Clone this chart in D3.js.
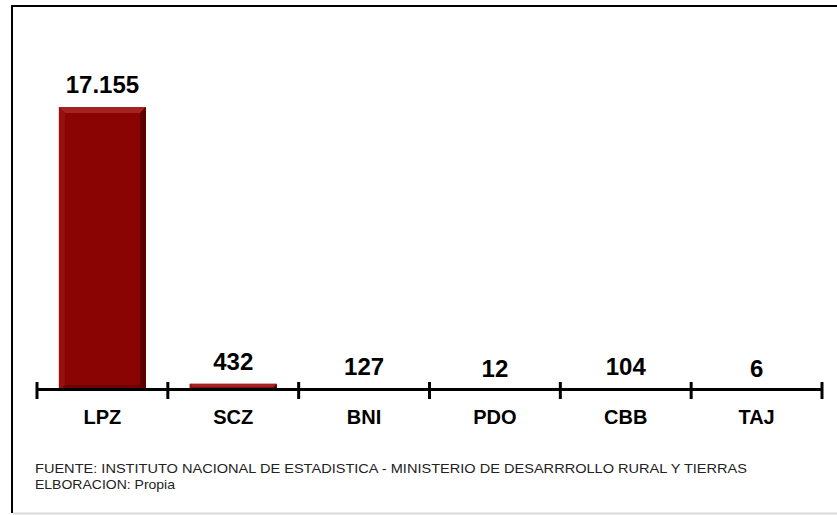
<!DOCTYPE html>
<html>
<head>
<meta charset="utf-8">
<script src="https://cdn.jsdelivr.net/npm/d3@7.9.0/dist/d3.min.js"></script>
<style>
  html, body { margin: 0; padding: 0; background: #fff; }
  svg { display: block; font-family: Arial, "Liberation Sans", sans-serif; }
</style>
</head>
<body>
<svg id="chart" width="837" height="515"></svg>
<script>
const categories = ['LPZ', 'SCZ', 'BNI', 'PDO', 'CBB', 'TAJ'];
const values = [17155, 432, 127, 12, 104, 6];
const valueLabels = ['17.155', '432', '127', '12', '104', '6'];
const footerLines = [
  'FUENTE: INSTITUTO NACIONAL DE ESTADISTICA - MINISTERIO DE DESARRROLLO RURAL Y TIERRAS',
  'ELBORACION: Propia'
];

const svg = d3.select('#chart');

// frame (left + top black, light grey bottom)
svg.append('line').attr('x1', 12).attr('x2', 12).attr('y1', 5).attr('y2', 513)
  .attr('stroke', '#000').attr('stroke-width', 2);
svg.append('line').attr('x1', 11).attr('x2', 837).attr('y1', 6).attr('y2', 6)
  .attr('stroke', '#000').attr('stroke-width', 2);
svg.append('line').attr('x1', 13).attr('x2', 837).attr('y1', 513.5).attr('y2', 513.5)
  .attr('stroke', '#d9d9d9').attr('stroke-width', 2);

const axisY = 389.5;
const base = 391;
const x = d3.scaleBand().domain(categories).range([37, 822]).padding(0);
const y = d3.scaleLinear().domain([0, d3.max(values)]).range([base, 107]);

const barFrac = 0.665;
const bw = x.bandwidth() * barFrac;
const off = (x.bandwidth() - bw) / 2;

const data = categories.map((c, i) => ({ cat: c, value: values[i], label: valueLabels[i] }));

// bars with a small bevel
const bars = svg.append('g').selectAll('g').data(data).join('g')
  .attr('transform', d => `translate(${x(d.cat) + off},${y(d.value)})`);

bars.append('rect')
  .attr('width', bw)
  .attr('height', d => base - y(d.value))
  .attr('fill', '#8a0404');

bars.each(function (d) {
  const h = base - y(d.value);
  const b = Math.min(6, h / 2);
  if (h < 3) return;
  const g = d3.select(this);
  // top bevel
  g.append('path').attr('d', `M0,0 L${bw},0 L${bw - b},${b} L${b},${b} Z`).attr('fill', '#a52222');
  // left bevel
  g.append('path').attr('d', `M0,0 L${b},${b} L${b},${h - b} L0,${h} Z`).attr('fill', '#961010');
  // right bevel
  g.append('path').attr('d', `M${bw},0 L${bw},${h} L${bw - b},${h - b} L${bw - b},${b} Z`).attr('fill', '#5e0000');
  // bottom bevel
  g.append('path').attr('d', `M0,${h} L${b},${h - b} L${bw - b},${h - b} L${bw},${h} Z`).attr('fill', '#6e0202');
});

// axis line and ticks
svg.append('line').attr('x1', 37).attr('x2', 822).attr('y1', axisY).attr('y2', axisY)
  .attr('stroke', '#000').attr('stroke-width', 3);
const tickPos = categories.map(c => x(c)).concat([x.range()[1]]);
svg.append('g').selectAll('line').data(tickPos).join('line')
  .attr('x1', d => d).attr('x2', d => d)
  .attr('y1', 382).attr('y2', 399)
  .attr('stroke', '#000').attr('stroke-width', 3);

// value labels
svg.append('g').selectAll('text').data(data).join('text')
  .attr('x', d => x(d.cat) + x.bandwidth() / 2)
  .attr('y', d => y(d.value) - 14)
  .attr('text-anchor', 'middle')
  .attr('font-size', 24)
  .attr('font-weight', 'bold')
  .attr('fill', '#000')
  .text(d => d.label);

// category labels
svg.append('g').selectAll('text').data(categories).join('text')
  .attr('x', d => x(d) + x.bandwidth() / 2)
  .attr('y', 424)
  .attr('text-anchor', 'middle')
  .attr('font-size', 20)
  .attr('font-weight', 'bold')
  .attr('fill', '#000')
  .text(d => d);

// footer
const footLen = [712, 140];
svg.append('g').selectAll('text').data(footerLines).join('text')
  .attr('x', 35)
  .attr('y', (d, i) => 473 + i * 15.5)
  .attr('font-size', 13.5)
  .attr('fill', '#222')
  .attr('textLength', (d, i) => footLen[i])
  .attr('lengthAdjust', 'spacingAndGlyphs')
  .text(d => d);
</script>
</body>
</html>
